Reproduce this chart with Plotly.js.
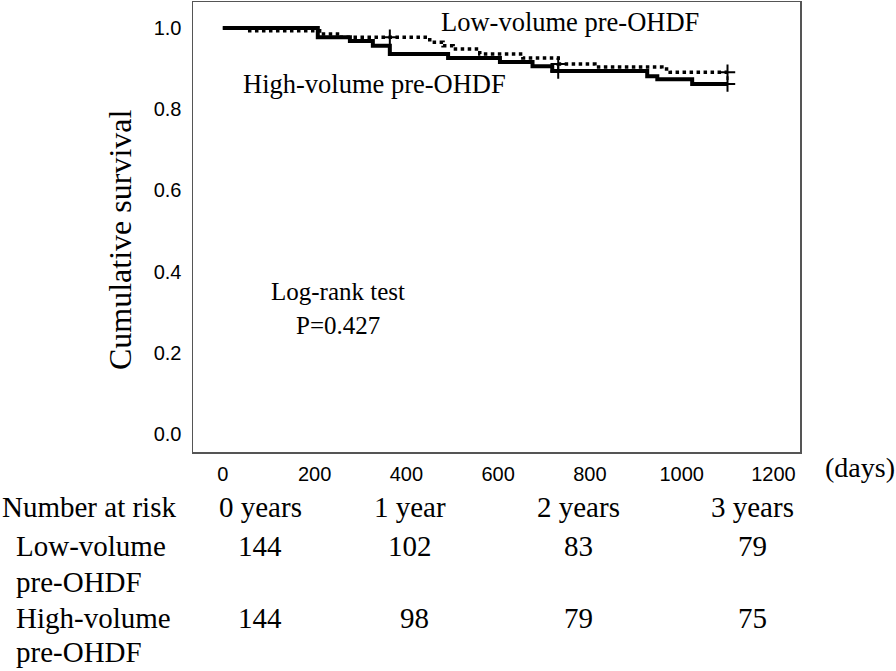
<!DOCTYPE html>
<html>
<head>
<meta charset="utf-8">
<script src="https://cdn.plot.ly/plotly-3.0.1.min.js"></script>
<style>html,body{margin:0;padding:0;background:#fff;}#chart{width:896px;height:671px;}</style>
</head>
<body>
<div id="chart"></div>
<script>
// Kaplan-Meier step data (days, cumulative survival)
const lowDays  = [0, 52, 211, 255, 451, 480, 502, 560, 654, 731, 811, 957, 975, 1100];
const lowSurv  = [1.0, 0.993, 0.985, 0.977, 0.965, 0.956, 0.948, 0.936, 0.926, 0.911, 0.904, 0.899, 0.891, 0.891];
const highDays = [0, 207, 277, 327, 364, 491, 604, 675, 718, 925, 947, 1023, 1100];
const highSurv = [1.0, 0.977, 0.968, 0.956, 0.936, 0.926, 0.916, 0.906, 0.894, 0.881, 0.874, 0.862, 0.862];
// censoring marks (days)
const lowCensor  = [364, 731, 1100];
const highCensor = [731, 1100];
// tick values
const xTicks = [0, 200, 400, 600, 800, 1000, 1200];
const yTicks = [0.0, 0.2, 0.4, 0.6, 0.8, 1.0];
// number at risk table
const riskHeaders = ['0 years', '1 year', '2 years', '3 years'];
const riskLow  = [144, 102, 83, 79];
const riskHigh = [144, 98, 79, 75];
const groupNames = ['Low-volume pre-OHDF', 'High-volume pre-OHDF'];

function stepAt(days, surv, t) {
  let v = surv[0];
  for (let i = 0; i < days.length; i++) { if (days[i] <= t) v = surv[i]; }
  return v;
}

const serif = 'Liberation Serif, Times New Roman, serif';
const sans = 'Liberation Sans, Arial, sans-serif';

const traces = [
  {x: lowDays, y: lowSurv, type: 'scatter', mode: 'lines', line: {shape: 'hv', color: '#000', width: 3.5, dash: 'dot'}, name: groupNames[0]},
  {x: highDays, y: highSurv, type: 'scatter', mode: 'lines', line: {shape: 'hv', color: '#000', width: 4}, name: groupNames[1]},
  {x: lowCensor, y: lowCensor.map(t => stepAt(lowDays, lowSurv, t)), type: 'scatter', mode: 'markers',
   marker: {symbol: 'cross-thin', size: 11, color: '#000', line: {width: 2, color: '#000'}}},
  {x: highCensor, y: highCensor.map(t => stepAt(highDays, highSurv, t)), type: 'scatter', mode: 'markers',
   marker: {symbol: 'cross-thin', size: 11, color: '#000', line: {width: 2, color: '#000'}}}
];

const L = 193, R = 800, T = 2, B = 452;
function px(x) { return (x - L) / (R - L); }
function py(y) { return (B - y) / (B - T); }

function ann(text, x, y, size, xanchor, extra) {
  return Object.assign({text: text, xref: 'paper', yref: 'paper', x: px(x), y: py(y),
    xanchor: xanchor || 'center', yanchor: 'middle', showarrow: false,
    font: {family: serif, size: size, color: '#000'}}, extra || {});
}

const TF = 29;
const annotations = [
  ann(groupNames[0], 570, 22, 26.5),
  ann(groupNames[1], 374, 84, 26.5),
  ann('Log-rank test', 338, 292, 25),
  ann('P=0.427', 338, 325, 25),
  ann('Cumulative survival', 120, 240, 32, 'center', {textangle: -90}),
  ann('(days)', 860, 467, 28),
  ann('Number at risk', 0, 507, TF, 'left'),
  ann('Low-volume', 14, 546, TF, 'left'),
  ann('pre-OHDF', 14, 582, TF, 'left'),
  ann('High-volume', 14, 618, TF, 'left'),
  ann('pre-OHDF', 14, 652, TF, 'left')
];
const colX = [260, 410, 578, 752];
riskHeaders.forEach((h, i) => annotations.push(ann(h, colX[i], 507, TF)));
riskLow.forEach((v, i) => annotations.push(ann(String(v), colX[i], 546, TF)));
riskHigh.forEach((v, i) => annotations.push(ann(String(v), colX[i] + (i === 1 ? 4 : 0), 618, TF)));

const layout = {
  width: 896, height: 671,
  margin: {l: L, r: 896 - R, t: T, b: 671 - B},
  paper_bgcolor: '#fff', plot_bgcolor: '#fff',
  showlegend: false,
  xaxis: {range: [-65, 1258], tickvals: xTicks, ticktext: xTicks.map(String), showgrid: false, zeroline: false,
          showline: true, mirror: true, linecolor: '#555', linewidth: 1.5, ticks: '', ticklabelstandoff: 3,
          tickfont: {family: sans, size: 20, color: '#000'}},
  yaxis: {range: [-0.0444, 1.064], tickvals: yTicks, ticktext: yTicks.map(v => v.toFixed(1)), showgrid: false, zeroline: false,
          showline: true, mirror: true, linecolor: '#555', linewidth: 1.5, ticks: '', ticklabelstandoff: 6,
          tickfont: {family: sans, size: 20, color: '#000'}},
  annotations: annotations
};

Plotly.newPlot('chart', traces, layout, {displayModeBar: false, staticPlot: true});
</script>
</body>
</html>
